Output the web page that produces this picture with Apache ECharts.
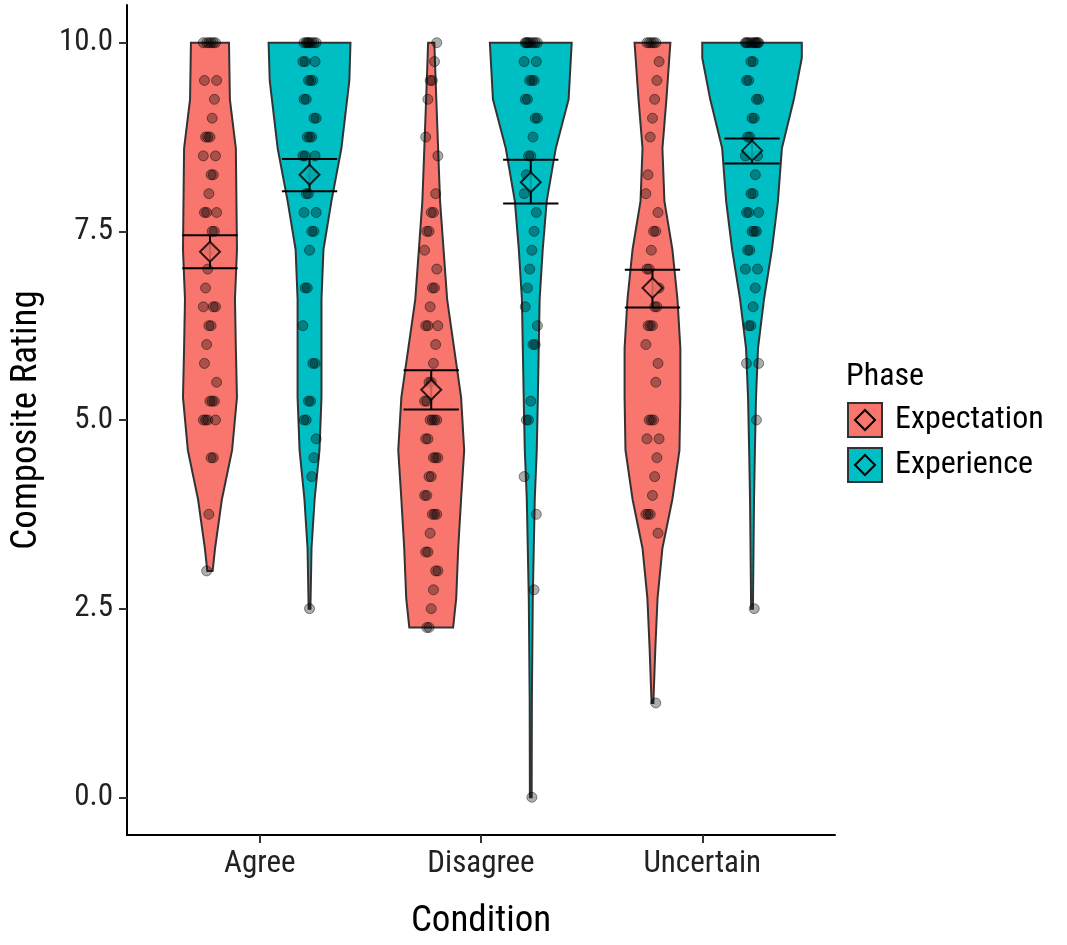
<!DOCTYPE html>
<html><head><meta charset="utf-8">
<script src="https://cdn.jsdelivr.net/npm/echarts@6/dist/echarts.min.js"></script>
<style>html,body{margin:0;background:#fff}#c{width:1067px;height:945px}</style>
</head><body><div id="c"></div>
<script>
const categories = ['Agree','Disagree','Uncertain'];
const phases = ['Expectation','Experience'];
const colors = ['#F8766D','#00BFC4'];
const yTicks = [0,2.5,5,7.5,10];
// ratings per group (condition index, phase index)
const ratings = {
 '0_0':[10,10,10,10,10,10,9.5,9.5,9.25,9,8.75,8.75,8.75,8.5,8.5,8.25,8.25,8,7.75,7.75,7.75,7.5,7.5,7.25,7,6.75,6.5,6.5,6.5,6.25,6.25,6,5.75,5.5,5.25,5.25,5.25,5,5,5,5,4.5,4.5,3.75,3],
 '0_1':[10,10,10,10,10,10,10,10,9.75,9.75,9.75,9.5,9.5,9.5,9.25,9.25,9,9,8.75,8.75,8.75,8.5,8.5,8.5,8.25,8.25,8,8,7.75,7.75,7.5,7.5,7.25,6.75,6.75,6.25,5.75,5.75,5.25,5.25,5,5,4.75,4.5,4.25,2.5],
 '1_0':[10,9.75,9.5,9.5,9.25,8.75,8.5,8,7.75,7.75,7.5,7.5,7.25,7,6.75,6.75,6.5,6.25,6.25,6.25,6,5.75,5.5,5.5,5.25,5.25,5,5,5,5,4.75,4.75,4.5,4.5,4.5,4.25,4.25,4,4,3.75,3.75,3.75,3.5,3.25,3.25,3,3,2.75,2.5,2.25,2.25],
 '1_1':[10,10,10,10,10,10,10,10,9.75,9.75,9.5,9.5,9.5,9.25,9.25,9,9,8.75,8.5,8.5,8.25,8,7.75,7.5,7.25,7,6.75,6.5,6.25,6,6,5.25,5,5,4.25,3.75,2.75,0],
 '2_0':[10,10,10,10,10,9.75,9.5,9.25,9,8.75,8.25,8,7.75,7.5,7.5,7.25,7,7,6.75,6.5,6.5,6.25,6.25,6.25,6,5.75,5.5,5,5,5,4.75,4.75,4.5,4.25,4,3.75,3.75,3.75,3.5,1.25],
 '2_1':[10,10,10,10,10,10,10,10,10,10,9.75,9.75,9.5,9.5,9.25,9.25,9,9,8.75,8.75,8.5,8.5,8.25,8,8,7.75,7.75,7.75,7.5,7.5,7.5,7.25,7.25,7,7,6.75,6.5,6.25,6.25,5.75,5.75,5,2.5]
};
// violin half-width profiles: [rating, half-width in category units]
const profiles = {
 '0_0':[[10,.086],[9.25,.09],[8.6,.117],[7.26,.122],[6.6,.113],[5.95,.117],[5.3,.122],[4.6,.1],[3.95,.054],[3.3,.023],[3,.012]],
 '0_1':[[10,.185],[9.5,.18],[8.6,.144],[7.9,.099],[7.26,.063],[6.6,.054],[5.95,.054],[5.3,.054],[4.6,.045],[3.95,.023],[3.3,.009],[2.5,.004]],
 '1_0':[[10,.014],[9.25,.023],[7.9,.04],[6.6,.072],[5.3,.135],[4.6,.149],[3.95,.135],[3.3,.122],[2.64,.113],[2.25,.099]],
 '1_1':[[10,.185],[9.25,.171],[8.6,.113],[7.9,.072],[7.26,.054],[6.6,.04],[5.3,.032],[4.6,.027],[3.95,.018],[2.64,.009],[1.3,.005],[0,.004]],
 '2_0':[[10,.081],[9.25,.063],[8.6,.045],[7.9,.054],[7.26,.09],[6.6,.113],[5.95,.126],[5.3,.126],[4.6,.122],[3.95,.09],[3.3,.045],[2.64,.023],[1.98,.013],[1.25,.004]],
 '2_1':[[10,.225],[9.8,.225],[9.25,.189],[8.6,.135],[7.9,.117],[7.26,.09],[6.6,.054],[5.95,.027],[5.3,.018],[4.6,.013],[3.95,.009],[2.5,.004]]
};
const means = {'0_0':[7.23,7.01,7.45],'0_1':[8.25,8.03,8.46],'1_0':[5.4,5.14,5.66],'1_1':[8.15,7.87,8.45],'2_0':[6.75,6.49,6.99],'2_1':[8.57,8.40,8.73]};

const dodge = 0.225;
const groups = [];
categories.forEach((c,ci)=>phases.forEach((p,pi)=>groups.push({key:ci+'_'+pi,ci,pi,x:ci+1+(pi?dodge:-dodge)})));

const font = "'Liberation Sans Narrow','Roboto Condensed','Liberation Sans',sans-serif";
const series = [];
// violins
series.push({type:'custom',data:groups.map(g=>[g.x,0]),z:1,
 renderItem:(params,api)=>{
  const g=groups[params.dataIndex];const pr=profiles[g.key];
  const right=pr.map(([v,w])=>api.coord([g.x+w,v]));
  const left=pr.slice().reverse().map(([v,w])=>api.coord([g.x-w,v]));
  return {type:'polygon',shape:{points:right.concat(left)},style:{fill:colors[g.pi],stroke:'#333',lineWidth:2}};
 }});
// points
const pts=[];
groups.forEach(g=>ratings[g.key].forEach((v,i)=>{const j=(((i*37+g.ci*11+g.pi*5)%13)-6)/6*0.03;pts.push([g.x+j,v]);}));
series.push({type:'scatter',data:pts,symbolSize:10,z:3,itemStyle:{color:'rgba(0,0,0,0.4)',borderColor:'rgba(0,0,0,0.55)',borderWidth:1}});
// error bars
series.push({type:'custom',z:4,data:groups.map(g=>[g.x,means[g.key][1],means[g.key][2]]),
 renderItem:(params,api)=>{
  const x=api.value(0),lo=api.value(1),hi=api.value(2),hw=0.125;
  const st={stroke:'#000',lineWidth:2};
  const a=api.coord([x-hw,lo]),b=api.coord([x+hw,lo]),c=api.coord([x-hw,hi]),d=api.coord([x+hw,hi]),m1=api.coord([x,lo]),m2=api.coord([x,hi]);
  return {type:'group',children:[
   {type:'line',shape:{x1:a[0],y1:a[1],x2:b[0],y2:b[1]},style:st},
   {type:'line',shape:{x1:c[0],y1:c[1],x2:d[0],y2:d[1]},style:st},
   {type:'line',shape:{x1:m1[0],y1:m1[1],x2:m2[0],y2:m2[1]},style:st}]};
 }});
// means
phases.forEach((p,pi)=>series.push({type:'scatter',name:p,z:5,symbol:'diamond',symbolSize:[20,20],
 data:groups.filter(g=>g.pi===pi).map(g=>[g.x,means[g.key][0]]),
 itemStyle:{color:colors[pi],borderColor:'#000',borderWidth:2}}));

const chart=echarts.init(document.getElementById('c'));
const legendItems=[];
phases.forEach((p,i)=>{
 const y=403+i*45;
 legendItems.push({type:'rect',shape:{x:848,y:y,width:34,height:34},style:{fill:colors[i],stroke:'#333',lineWidth:2}});
 legendItems.push({type:'polygon',shape:{points:[[865,y+7],[875,y+17],[865,y+27],[855,y+17]]},style:{fill:colors[i],stroke:'#000',lineWidth:2}});
 legendItems.push({type:'text',style:{x:895,y:y+17,text:p,font:'32px '+font,fill:'#000',verticalAlign:'middle'}});
});
legendItems.push({type:'text',style:{x:846,y:377,text:'Phase',font:'32px '+font,fill:'#000',verticalAlign:'middle'}});
chart.setOption({
 animation:false,
 grid:{left:126,top:5,right:232,bottom:108},
 xAxis:{type:'value',min:0.4,max:3.6,splitLine:{show:false},
  axisLine:{onZero:false,lineStyle:{color:'#000',width:2}},
  axisTick:{customValues:[1,2,3],length:8,lineStyle:{color:'#333',width:2}},
  axisLabel:{customValues:[1,2,3],formatter:v=>categories[Math.round(v)-1],fontSize:31,color:'#222',fontFamily:font,margin:14},
  name:'Condition',nameLocation:'middle',nameGap:68,nameTextStyle:{fontSize:37,color:'#000',fontFamily:font}},
 yAxis:{type:'value',min:-0.5,max:10.5,splitLine:{show:false},
  axisLine:{show:true,onZero:false,lineStyle:{color:'#000',width:2}},
  axisTick:{show:true,customValues:yTicks,length:8,lineStyle:{color:'#333',width:2}},
  axisLabel:{customValues:yTicks,formatter:v=>v.toFixed(1),fontSize:31,color:'#222',fontFamily:font,margin:14},
  name:'Composite Rating',nameLocation:'middle',nameGap:82,nameTextStyle:{fontSize:37,color:'#000',fontFamily:font}},
 series,
 graphic:legendItems
});
</script></body></html>
